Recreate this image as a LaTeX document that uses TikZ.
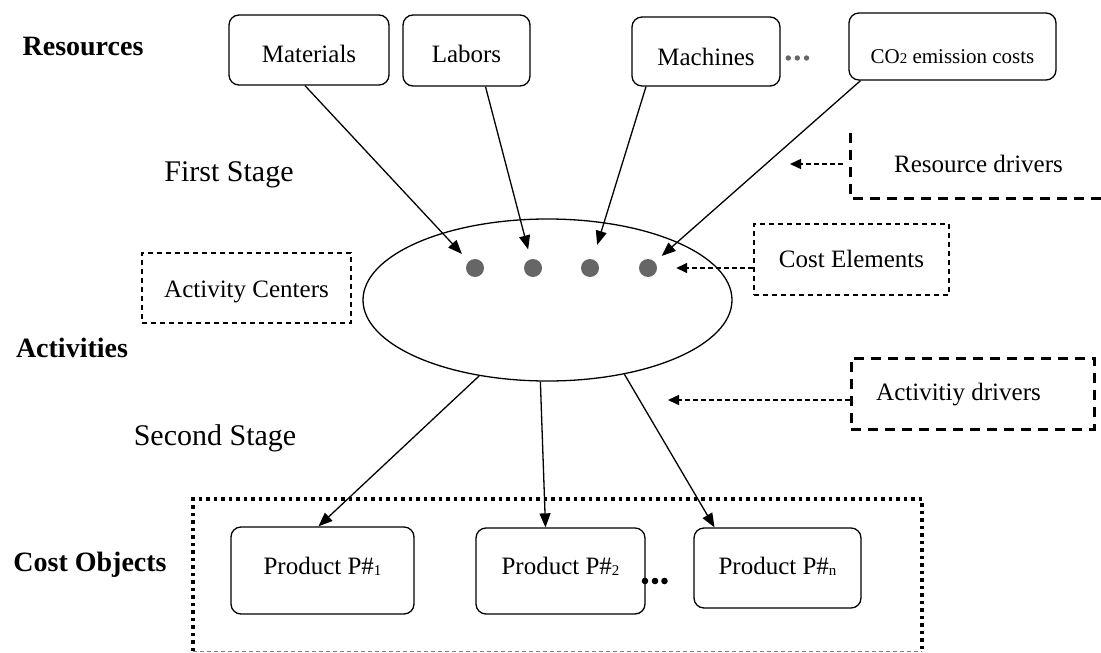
\documentclass[tikz,border=0pt]{standalone}
\usepackage{fontspec}
\setmainfont{Liberation Serif}
\usetikzlibrary{arrows.meta,shapes.geometric}
\definecolor{dotgray}{HTML}{666666}
\newcommand{\sub}[1]{\raisebox{-1pt}{\fontsize{15}{15}\selectfont #1}}
\tikzset{
  txt/.style={font=\fontsize{25}{29}\selectfont, inner sep=0pt},
  stagetxt/.style={font=\fontsize{30}{34}\selectfont, inner sep=0pt},
  btxt/.style={font=\fontsize{28}{32}\selectfont\bfseries, inner sep=0pt},
  rbox/.style={draw, rounded corners=10pt, line width=1.3pt, inner sep=0pt, text depth=0pt, font=\fontsize{25}{29}\selectfont},
  thindash/.style={draw, line width=1.3pt, dash pattern=on 5pt off 4pt, inner sep=0pt, text depth=0pt, font=\fontsize{25}{29}\selectfont},
  thickdash/.style={line width=3pt, dash pattern=on 10pt off 7pt},
  dotframe/.style={line width=3.5pt, dash pattern=on 3.5pt off 4pt},
  arr/.style={line width=1.3pt, -{Triangle[length=14pt,width=11pt]}},
  darr/.style={line width=1.5pt, dash pattern=on 5pt off 3pt, -{Triangle[length=11pt,width=10pt]}},
  blob/.style={circle, fill=dotgray, minimum size=18pt, inner sep=0pt},
}
\begin{document}
\begin{tikzpicture}[x=1pt,y=-1pt]
\useasboundingbox (0,0) rectangle (1101,653);
% labels
\node[btxt] (lres) at (83,47) {Resources};
\node[stagetxt] (lfirst) at (229,175) {First Stage};
\node[btxt] (lact) at (72,348) {Activities};
\node[stagetxt] (lsecond) at (215,438) {Second Stage};
\node[btxt] (lcost) at (90,565) {Cost Objects};
% resources
\node[rbox, minimum width=160pt, minimum height=70pt, text height=24.6pt] (mat) at (309,50) {Materials};
\node[rbox, minimum width=127pt, minimum height=71pt, text height=24.6pt] (lab) at (466.5,50.5) {Labors};
\node[rbox, minimum width=148pt, minimum height=69pt, text height=28.6pt] (mac) at (706,51.5) {Machines};
\node[rbox, minimum width=207pt, minimum height=67pt, text height=33pt, font=\fontsize{21}{25}\selectfont] (co) at (952.5,46.5) {CO\sub{2} emission costs};
\fill[dotgray] (788.3,58) circle (2.7) (797.3,58) circle (2.7) (806.5,58) circle (2.7);
% activity ellipse
\node[draw, ellipse, line width=1.3pt, minimum width=369pt, minimum height=162pt, inner sep=0pt] (act) at (547.5,300) {};
\node[blob] (d1) at (475,268) {};
\node[blob] (d2) at (533,268) {};
\node[blob] (d3) at (590,268) {};
\node[blob] (d4) at (648,268) {};
% side boxes
\node[thindash, minimum width=209pt, minimum height=70pt, text height=18.6pt] (ac) at (246.5,288) {Activity Centers};
\node[thindash, minimum width=195pt, minimum height=71pt, text height=16.5pt] (ce) at (851.5,259.5) {Cost Elements};
\node[txt] (rd) at (978.5,164) {Resource drivers};
\draw[thickdash] (850,133) -- (850,198) -- (1101,198);
\coordinate (rdend) at (790,164);
\draw[darr] (843,164) -- (rdend);
\node[draw, thickdash, minimum width=243pt, minimum height=71pt, inner sep=0pt] (ad) at (972.5,393.5) {};
\node[txt] (adt) at (958.5,395) {Activitiy drivers};
\coordinate (adend) at (668,400);
\draw[darr] (ad.west |- adend) -- (adend);
\draw[darr] (ce.west |- d4) -- ([xshift=19pt]d4.east);
% first stage arrows
\draw[arr, shorten >=10pt] ([xshift=-4pt]mat.south) -- (d1);
\draw[arr, shorten >=10pt] ([xshift=19pt]lab.south) -- (d2);
\draw[arr, shorten >=15pt] ([xshift=-60pt]mac.south) -- (d3);
\draw[arr, shorten >=9pt] ([xshift=-92pt]co.south) -- (d4);
% cost objects
\draw[dotframe] (193,651) -- (193,499) -- (922,499) -- (922,651);
\draw[gray, line width=0.8pt, dash pattern=on 4pt off 3pt] (193,651) -- (922,651);
\node[rbox, minimum width=183pt, minimum height=87pt, text height=7.6pt] (p1) at (322.5,570.5) {Product P\#\sub{1}};
\node[rbox, minimum width=169pt, minimum height=86pt, text height=7.6pt] (p2) at (560.5,571) {Product P\#\sub{2}};
\node[rbox, minimum width=167pt, minimum height=80pt, text height=13.6pt] (pn) at (777.5,568) {Product P\#\sub{n}};
\fill (645,581) circle (3.3) (655,581) circle (3.3) (664.5,581) circle (3.3);
% second stage arrows
\draw[arr] (act.228) -- ([xshift=-4pt]p1.north);
\draw[arr] (act.265) -- ([xshift=-15pt]p2.north);
\draw[arr] (act.316) -- ([xshift=-63pt]pn.north);
\end{tikzpicture}
\end{document}
